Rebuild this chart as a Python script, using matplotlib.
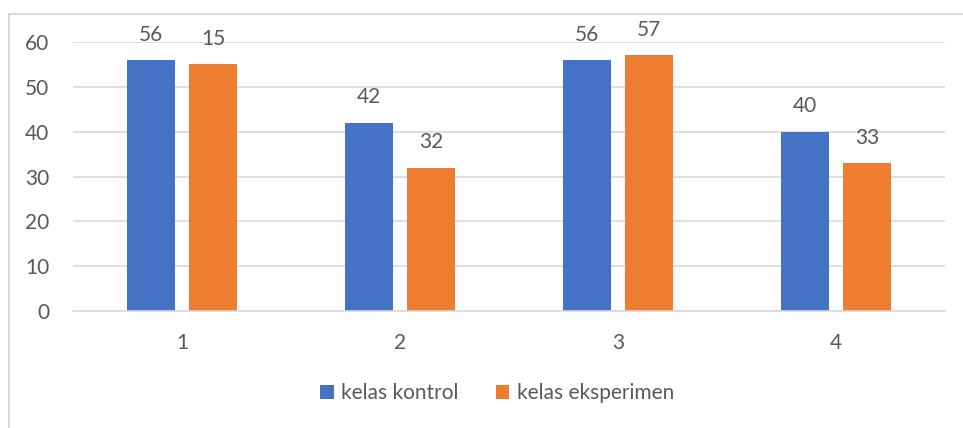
import matplotlib
matplotlib.use("Agg")
import matplotlib.pyplot as plt
from matplotlib.lines import Line2D
from matplotlib.patches import Patch
import numpy as np

categories = ["1", "2", "3", "4"]
kontrol = [56, 42, 56, 40]
eksperimen = [55, 32, 57, 33]
kontrol_labels = ["56", "42", "56", "40"]
eksperimen_labels = ["15", "32", "57", "33"]
series_names = ["kelas kontrol", "kelas eksperimen"]
yticks = [0, 10, 20, 30, 40, 50, 60]

plt.rcParams['font.family'] = ['Lato', 'DejaVu Sans']
TXT = "#595959"
GRID = "#d9d9d9"
BLUE = "#4472C4"
ORANGE = "#ED7D31"
FS = 15

W, H = 963, 428
fig = plt.figure(figsize=(W / 100, H / 100), dpi=100)
ax = fig.add_axes([73 / W, 1 - 311 / H, (945 - 73) / W, (311 - 42) / H])

x = np.arange(len(categories))
bw = 0.22
off = 0.143
b1 = ax.bar(x - off, kontrol, bw, color=BLUE, zorder=3)
b2 = ax.bar(x + off, eksperimen, bw, color=ORANGE, zorder=3)

for bars, labs in ((b1, kontrol_labels), (b2, eksperimen_labels)):
    for r, lab in zip(bars, labs):
        ax.annotate(lab, (r.get_x() + r.get_width() / 2, r.get_height()),
                    xytext=(0, 11), textcoords="offset points",
                    ha="center", va="bottom", fontsize=FS, color=TXT,
                    annotation_clip=False)

ax.set_xlim(-0.5, len(categories) - 0.5)
ax.set_ylim(0, 60)
ax.set_yticks(yticks)
ax.set_xticks(x)
ax.set_xticklabels(categories)
ax.tick_params(axis="both", length=0, labelsize=FS, labelcolor=TXT)
ax.tick_params(axis="y", pad=17)
ax.tick_params(axis="x", pad=16)
ax.grid(axis="y", color=GRID, linewidth=1.2, zorder=0)
for s in ("top", "right", "left"):
    ax.spines[s].set_visible(False)
ax.spines["bottom"].set_color(GRID)
ax.spines["bottom"].set_linewidth(1.2)
ax.spines["bottom"].set_zorder(4)

# chart border
fig.add_artist(Line2D([8.5 / W, 1.0], [1 - 13.5 / H, 1 - 13.5 / H],
                      transform=fig.transFigure, color=GRID, linewidth=1.5))
fig.add_artist(Line2D([8.5 / W, 8.5 / W], [0, 1 - 13.5 / H],
                      transform=fig.transFigure, color=GRID, linewidth=1.5))

handles = [Patch(facecolor=BLUE), Patch(facecolor=ORANGE)]
fig.legend(handles, series_names, loc="center", bbox_to_anchor=(497 / W, 1 - 393 / H),
           ncol=2, frameon=False, fontsize=FS, labelcolor=TXT,
           handlelength=0.65, handleheight=0.65, handletextpad=0.35, columnspacing=1.8)

fig.savefig("out.png", dpi=100)
